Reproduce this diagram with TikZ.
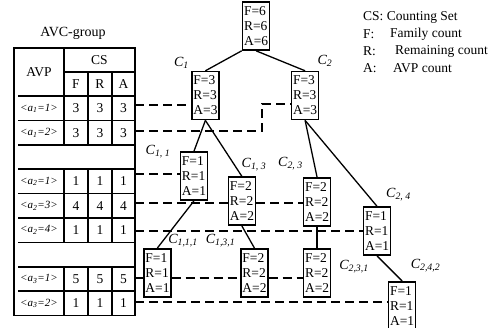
\documentclass[tikz,border=0pt]{standalone}
\usepackage{fontspec}
\setmainfont{Liberation Serif}
\usepackage{tikz}
\usetikzlibrary{positioning}

\begin{document}
\begin{tikzpicture}[
  x=1pt, y=-1pt,
  every node/.style={font=\fontsize{13.5}{15}\selectfont, inner sep=0pt},
  cnt/.style={draw, line width=1.6pt, fill=white, inner xsep=1.5pt,
              text width=24pt, minimum height=48pt, align=left},
  tbl/.style={line width=1.6pt},
  tie/.style={line width=1.3pt},
  lnk/.style={line width=1.6pt, dash pattern=on 9pt off 5pt},
  lbl/.style={font=\fontsize{14}{14}\selectfont\itshape},
  avp/.style={font=\fontsize{11}{11}\selectfont\itshape}
]
  \useasboundingbox (0,0) rectangle (495,328);

  % AVC-group table
  \node (title) at (73,33) {\fontsize{14}{14}\selectfont AVC-group};
  \draw[tbl] (14,48) rectangle (135,315.6);
  \draw[tbl] (64,48) -- (64,96) (64,72) -- (135,72)
             (88,72) -- (88,96) (112,72) -- (112,96);
  \node (hAVP) at (39,72) {AVP};
  \node (hCS) at (99.5,60) {CS};
  \node (hF) at (76,84) {F};
  \node (hR) at (100,84) {R};
  \node (hA) at (123.5,84) {A};
  \foreach \k in {0,...,8}
    \draw[tbl] (18,{96+24.4*\k}) -- (135,{96+24.4*\k});
  \foreach \k/\nm/\i/\j/\v in {0/r11/1/1/3, 1/r12/1/2/3, 3/r21/2/1/1, 4/r23/2/3/4,
                               5/r24/2/4/1, 7/r31/3/1/5, 8/r32/3/2/1}{
    \draw[tbl] (64,{96+24.4*\k}) -- (64,{120.4+24.4*\k})
               (88,{96+24.4*\k}) -- (88,{120.4+24.4*\k})
               (112,{96+24.4*\k}) -- (112,{120.4+24.4*\k});
    \node[avp] (\nm) at (39,{108.2+24.4*\k}) {<a\textsubscript{\i}=\j>};
    \node (\nm F) at (76,{108.2+24.4*\k}) {\v};
    \node (\nm R) at (100,{108.2+24.4*\k}) {\v};
    \node (\nm A) at (123.5,{108.2+24.4*\k}) {\v};
  }

  % Counting-set tree
  \node[cnt] (root) at (256,26) {F=6\\R=6\\A=6};
  \node[cnt, below left=20pt and 22pt of root] (C1) {F=3\\R=3\\A=3};
  \node[cnt, below right=20pt and 20.5pt of root] (C2) {F=3\\R=3\\A=3};
  \node[cnt, below=31pt of C1, xshift=-11.5pt] (c11) {F=1\\R=1\\A=1};
  \node[cnt, below=56pt of C1, xshift=36.5pt] (c13) {F=2\\R=2\\A=2};
  \node[cnt, below=57pt of C2, xshift=12pt] (c23) {F=2\\R=2\\A=2};
  \node[cnt, below=86pt of C2, xshift=72pt] (c24) {F=1\\R=1\\A=1};
  \node[cnt, below=47pt of c11, xshift=-36.5pt] (c111) {F=1\\R=1\\A=1};
  \node[cnt, below=22pt of c13, xshift=12.5pt] (c131) {F=2\\R=2\\A=2};
  \node[cnt, below=21pt of c23] (c231) {F=2\\R=2\\A=2};
  \node[cnt, below=25pt of c24, xshift=25pt] (c242) {F=1\\R=1\\A=1};

  % cluster names
  \node[lbl] (lC1) at (181.5,63) {C\textsubscript{1}};
  \node[lbl] (lC2) at (325,61) {C\textsubscript{2}};
  \node[lbl] (lc11) at (158,152) {C\textsubscript{1, 1}};
  \node[lbl] (lc13) at (254,165) {C\textsubscript{1, 3}};
  \node[lbl] (lc23) at (290.5,164) {C\textsubscript{2, 3}};
  \node[lbl] (lc24) at (398.5,195) {C\textsubscript{2, 4}};
  \node[lbl] (lc111) at (183,241) {C\textsubscript{1,1,1}};
  \node[lbl] (lc131) at (220.5,241) {C\textsubscript{1,3,1}};
  \node[lbl] (lc231) at (354,267) {C\textsubscript{2,3,1}};
  \node[lbl] (lc242) at (425.5,266) {C\textsubscript{2,4,2}};

  % Tree edges
  \draw[tie] (root.south west) -- (C1.north);
  \draw[tie] (root.south) -- (C2.north);
  \draw[tie] (C1.south) -- (c11.north);
  \draw[tie] (C1.south) -- (c13.north);
  \draw[tie] (C2.south) -- (c23.north);
  \draw[tie] (C2.south) -- (c24.north);
  \draw[tie] (c11.south) -- (c111.north);
  \draw[tie] (c13.south) -- (c131.north);
  \draw[tie] (c23.south) -- (c231.north);
  \draw[tie] (c24.south) -- (c242.north);

  % Links from AVP rows to clusters
  \coordinate (p11) at (135,105);
  \coordinate (p12) at (135,131);
  \coordinate (turn) at (262,104);
  \coordinate (p21) at (135,174);
  \coordinate (p23) at (135,203);
  \coordinate (p24) at (135,231);
  \coordinate (p31) at (135,278);
  \coordinate (p32) at (135,302);
  \draw[lnk] (p11) -- (p11 -| C1.west);
  \draw[lnk] (p12) -| (turn) -- (turn -| C2.west);
  \draw[lnk] (p21) -- (p21 -| c11.west);
  \draw[lnk] (p23) -- (p23 -| c13.west) (p23 -| c13.east) -- (p23 -| c23.west);
  \draw[lnk] (p24) -- (p24 -| c24.west);
  \draw[lnk] (p31) -- (p31 -| c111.west) (p31 -| c111.east) -- (p31 -| c131.west)
             (p31 -| c131.east) -- (p31 -| c231.west);
  \draw[lnk] (p32) -- (p32 -| c242.west);

  % Legend
  \node[anchor=west] (kCS) at (363,17) {CS: Counting Set};
  \node[anchor=west] (kF) at (363,34) {F:};
  \node[anchor=west] (tF) at (390,34) {Family count};
  \node[anchor=west] (kR) at (363,51) {R:};
  \node[anchor=west] (tR) at (395,51) {Remaining count};
  \node[anchor=west] (kA) at (363,68) {A:};
  \node[anchor=west] (tA) at (393,68) {AVP count};
\end{tikzpicture}
\end{document}
